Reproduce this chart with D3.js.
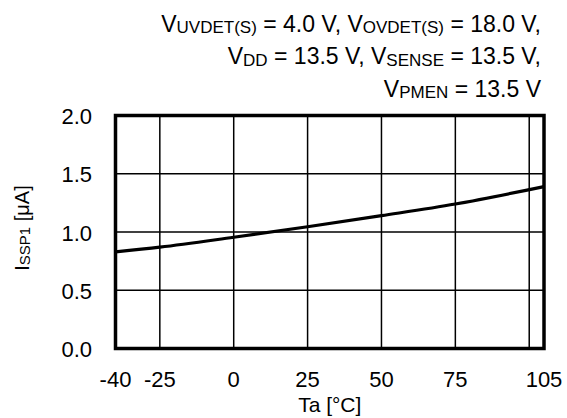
<!DOCTYPE html>
<html>
<head>
<meta charset="utf-8">
<script src="https://cdn.jsdelivr.net/npm/d3@7"></script>
<style>
  body { margin: 0; background: #fff; }
  svg { display: block; font-family: Arial, "Liberation Sans", sans-serif; }
</style>
</head>
<body>
<svg id="chart"></svg>
<script>
// data
const temps = [-40, -25, 0, 25, 50, 75, 105];
const current = [0.83, 0.87, 0.955, 1.045, 1.14, 1.24, 1.39];
const xTicks = [-40, -25, 0, 25, 50, 75, 105];
const xGrid = [-25, 0, 25, 50, 75, 100];
const yTicks = [0, 0.5, 1.0, 1.5, 2.0];

const width = 567;
const height = 418;
const margin = { left: 115.5, right: 23, top: 115.5, bottom: 69.5 };

const svg = d3.select('#chart')
  .attr('width', width)
  .attr('height', height);

const x = d3.scaleLinear().domain([-40, 105]).range([margin.left, width - margin.right]);
const y = d3.scaleLinear().domain([0, 2]).range([height - margin.bottom, margin.top]);

// grid
svg.append('g')
  .selectAll('line.vx')
  .data(xGrid)
  .enter()
  .append('line')
  .attr('x1', d => x(d)).attr('x2', d => x(d))
  .attr('y1', y(0)).attr('y2', y(2))
  .attr('stroke', '#000')
  .attr('stroke-width', 1.5);

svg.append('g')
  .selectAll('line.hy')
  .data(yTicks)
  .enter()
  .append('line')
  .attr('x1', x(-40)).attr('x2', x(105))
  .attr('y1', d => y(d)).attr('y2', d => y(d))
  .attr('stroke', '#000')
  .attr('stroke-width', 1.5);

// curve
const line = d3.line()
  .x((d, i) => x(temps[i]))
  .y(d => y(d))
  .curve(d3.curveMonotoneX);

svg.append('path')
  .datum(current)
  .attr('d', line)
  .attr('fill', 'none')
  .attr('stroke', '#000')
  .attr('stroke-width', 3.2);

// frame
svg.append('rect')
  .attr('x', x(-40)).attr('y', y(2))
  .attr('width', x(105) - x(-40))
  .attr('height', y(0) - y(2))
  .attr('fill', 'none')
  .attr('stroke', '#000')
  .attr('stroke-width', 3.5);

// tick labels
svg.append('g')
  .selectAll('text')
  .data(yTicks)
  .enter()
  .append('text')
  .attr('x', 92)
  .attr('y', d => y(d) + 8.5)
  .attr('text-anchor', 'end')
  .style('font-size', '22px')
  .text(d => d.toFixed(1));

svg.append('g')
  .selectAll('text')
  .data(xTicks)
  .enter()
  .append('text')
  .attr('x', d => x(d))
  .attr('y', 387)
  .attr('text-anchor', 'middle')
  .style('font-size', '22px')
  .text(d => d);

// axis titles
svg.append('text')
  .attr('x', x(32.5))
  .attr('y', 412)
  .attr('text-anchor', 'middle')
  .style('font-size', '21px')
  .text('Ta [°C]');

const yTitle = svg.append('text')
  .attr('transform', 'translate(29,' + (y(1) - 4) + ') rotate(-90)')
  .attr('text-anchor', 'middle')
  .style('font-size', '20px');
yTitle.append('tspan').text('I');
yTitle.append('tspan').style('font-size', '15px').attr('dy', 1).text('SSP1');
yTitle.append('tspan').attr('dy', -1).text(' [μA]');

// conditions
const conditions = [
  [['V', 'UVDET(S)', ' = 4.0 V, '], ['V', 'OVDET(S)', ' = 18.0 V,']],
  [['V', 'DD', ' = 13.5 V, '], ['V', 'SENSE', ' = 13.5 V,']],
  [['V', 'PMEN', ' = 13.5 V']]
];

conditions.forEach(function(row, r) {
  const t = svg.append('text')
    .attr('x', 541)
    .attr('y', 31.5 + r * 32.5)
    .attr('text-anchor', 'end')
    .style('font-size', '23px');
  row.forEach(function(part) {
    t.append('tspan').attr('dy', 0).text(part[0]);
    t.append('tspan').style('font-size', '17px').attr('dy', 1.5).text(part[1]);
    t.append('tspan').attr('dy', -1.5).text(part[2]);
  });
});
</script>
</body>
</html>
